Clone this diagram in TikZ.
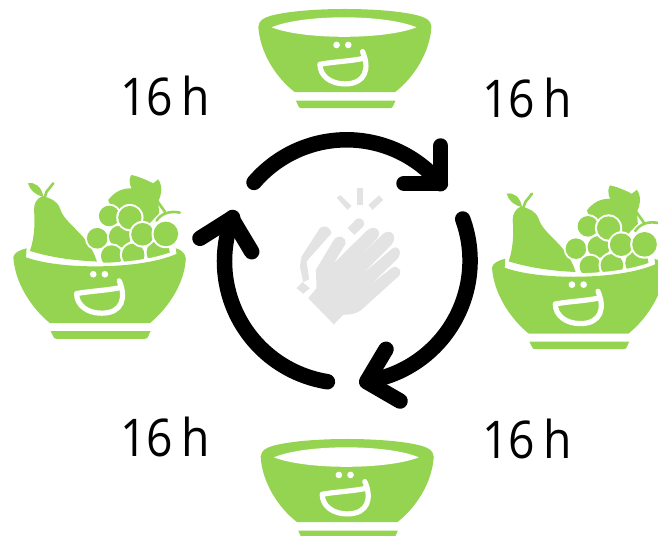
\documentclass[tikz,border=0pt]{standalone}
\usepackage{fontspec}
\usetikzlibrary{calc}
\setmainfont{Open Sans}[FakeStretch=0.89]
\definecolor{fruit}{HTML}{94D451}
\definecolor{clap}{HTML}{E3E3E3}
\tikzset{
  hours/.style={font=\fontsize{52}{54}\selectfont,inner sep=0pt,text=black},
  cyc/.style={draw=black,line width=15.5pt,line cap=round,line join=round},
  pics/face/.style={code={
    \fill[white] (290,135) circle (10);
    \fill[white] (325,135) circle (10);
    \draw[draw=white,line width=5.2pt,line cap=round,line join=round]
      (368,155) .. controls (390,205) and (378,252) .. (315,252)
      .. controls (272,252) and (240,228) .. (240,193) -- (240,193)
      .. controls (285,185) and (330,184) .. (372,175);
  }},
  pics/plainbowl/.style={code={
    \fill[fruit] (55,80) .. controls (58,60) and (70,55) .. (90,48)
      .. controls (190,20) and (440,20) .. (540,48)
      .. controls (560,55) and (572,60) .. (575,80)
      .. controls (570,160) and (520,235) .. (465,277) -- (165,277)
      .. controls (110,235) and (60,160) .. (55,80) -- cycle;
    \fill[white] (95,82) .. controls (190,42) and (435,42) .. (530,82)
      .. controls (435,120) and (190,120) .. (95,82) -- cycle;
    \fill[fruit] (168,302) -- (467,302) -- (460,318) .. controls (458,323) and (455,325) .. (450,325)
      -- (185,325) .. controls (180,325) and (177,323) .. (175,318) -- cycle;
    \pic {face};
  }},
  pics/fruitbowl/.style={code={
    \fill[fruit] (152,484) -- (452,484) -- (445,500) .. controls (443,505) and (440,507) .. (435,507)
      -- (170,507) .. controls (165,507) and (162,505) .. (160,500) -- cycle;
    % pear
    \fill[fruit] (128,78) .. controls (150,85) and (170,90) .. (180,115)
      .. controls (195,165) and (265,190) .. (291,275)
      .. controls (220,272) and (150,262) .. (90,243)
      .. controls (105,200) and (105,150) .. (102,120)
      .. controls (102,100) and (110,85) .. (128,78) -- cycle;
    \draw[fruit,line width=2.6pt,line cap=round] (133,85) -- (140,65) -- (160,40);
    \fill[fruit] (84,40) .. controls (105,35) and (125,50) .. (130,80) .. controls (105,75) and (90,60) .. (84,40) -- cycle;
    % leaves behind grapes
    \fill[fruit] (325,90) .. controls (345,65) and (365,55) .. (395,55)
      .. controls (385,35) and (390,20) .. (395,15)
      .. controls (420,20) and (450,35) .. (460,40) -- (475,28)
      .. controls (490,50) and (485,75) .. (475,95) -- (478,130) -- (440,170) -- (340,130) -- cycle;
    \draw[fruit,line width=2.6pt,line cap=round] (470,90) -- (495,125) (470,152) .. controls (485,130) and (510,122) .. (540,128);
    % grapes
    \foreach \gx/\gy/\gr in {292/205/31,328/138/31,360/200/33,335/258/32,400/255/34,475/248/35,390/143/35,428/193/34,498/192/37}{
      \fill[white] (\gx,\gy) circle (\gr+6);
      \fill[fruit] (\gx,\gy) circle (\gr);
    }
    % white band and bowl body over the fruit
    \fill[white] (60,240) -- (78,250) .. controls (180,290) and (420,290) .. (530,240) -- (535,300) -- (60,300) -- cycle;
    \fill[fruit] (40,262) .. controls (42,248) and (60,240) .. (80,235) -- (78,262)
      .. controls (180,300) and (420,300) .. (530,252) -- (528,235)
      .. controls (545,240) and (556,250) .. (558,265)
      .. controls (555,340) and (505,415) .. (450,460) -- (150,460)
      .. controls (95,415) and (45,340) .. (40,262) -- cycle;
    \begin{scope}[shift={(-10,178)}]\pic {face};\end{scope}
  }},
  pics/clapicon/.style={code={
    \fill[clap] (470,233) -- (482,226) -- (515,258) -- (503,270) -- cycle;
    \fill[clap] (531,205) -- (550,205) -- (550,255) -- (531,255) -- cycle;
    \fill[clap] (566,255) -- (598,226) -- (610,240) -- (578,270) -- cycle;
    \fill[clap] (503,325) -- (530,297) .. controls (545,290) and (558,305) .. (552,318) -- (524,345) -- cycle;
    \fill[clap] (350,505) -- (368,487) -- (390,505) -- (370,522) -- cycle;
    \fill[clap] (370,487) -- (388,478) -- (380,425) -- (455,340) .. controls (450,318) and (430,315) .. (420,325) -- (365,410) -- (360,440) -- cycle;
    \fill[clap] (385,535) -- (410,505) -- (408,450) -- (462,360) .. controls (475,342) and (500,350) .. (497,372)
      -- (462,430) -- (560,333) .. controls (585,310) and (612,335) .. (590,358)
      -- (515,435) -- (612,340) .. controls (635,325) and (655,350) .. (635,375)
      -- (545,465) -- (635,388) .. controls (655,370) and (672,400) .. (650,420)
      -- (575,492) -- (635,445) .. controls (655,430) and (675,460) .. (650,475)
      -- (545,570) .. controls (530,582) and (510,585) .. (490,585) -- (462,614) -- cycle;
  }},
}
\begin{document}
\begin{tikzpicture}[x=1pt,y=-1pt]
\useasboundingbox (0,0) rectangle (658,535);
\clip (0,0) rectangle (658,535);
% bowls
\begin{scope}[shift={(240,0)},x=0.333pt,y=-0.333pt]\pic {plainbowl};\end{scope}
\begin{scope}[shift={(242.3,430)},x=0.333pt,y=-0.333pt]\pic {plainbowl};\end{scope}
\begin{scope}[shift={(0,170)},x=0.333pt,y=-0.333pt]\pic {fruitbowl};\end{scope}
\begin{scope}[shift={(478.7,180.4)},x=0.333pt,y=-0.333pt]\pic {fruitbowl};\end{scope}
% clap
\begin{scope}[shift={(180,120)},x=0.333pt,y=-0.333pt]\pic {clapicon};\end{scope}
% cycle arrows
\coordinate (c) at (346.7,261.7);
\draw[cyc] ($(c)+(-92.7,-79.3)$) coordinate (a1) arc[start angle=-139.4,end angle=-39.8,radius=122] coordinate (t1);
\draw[cyc] (440.7,146) coordinate (h1a) -- (440.7,183.3) coordinate (h1b) -- (404,183.3) coordinate (h1c);
\draw[cyc] ($(c)+(116,-42.7)$) coordinate (a2) arc[start angle=-20,end angle=80.5,radius=122] coordinate (t2);
\draw[cyc] (386,349.3) coordinate (h2a) -- (366.7,381.7) coordinate (h2b) -- (400,401) coordinate (h2c);
\draw[cyc] ($(c)+(-19.3,120)$) coordinate (a3) arc[start angle=99,end angle=201,radius=122] coordinate (t3);
\draw[cyc] (200,238.3) coordinate (h3a) -- (231.7,218.3) coordinate (h3b) -- (251.7,251.7) coordinate (h3c);
% labels
\node[hours] (l1) at (165,96) {16\,h};
\node[hours] (l2) at (527,98) {16\,h};
\node[hours] (l3) at (165,437) {16\,h};
\node[hours] (l4) at (527,439) {16\,h};
\end{tikzpicture}
\end{document}
